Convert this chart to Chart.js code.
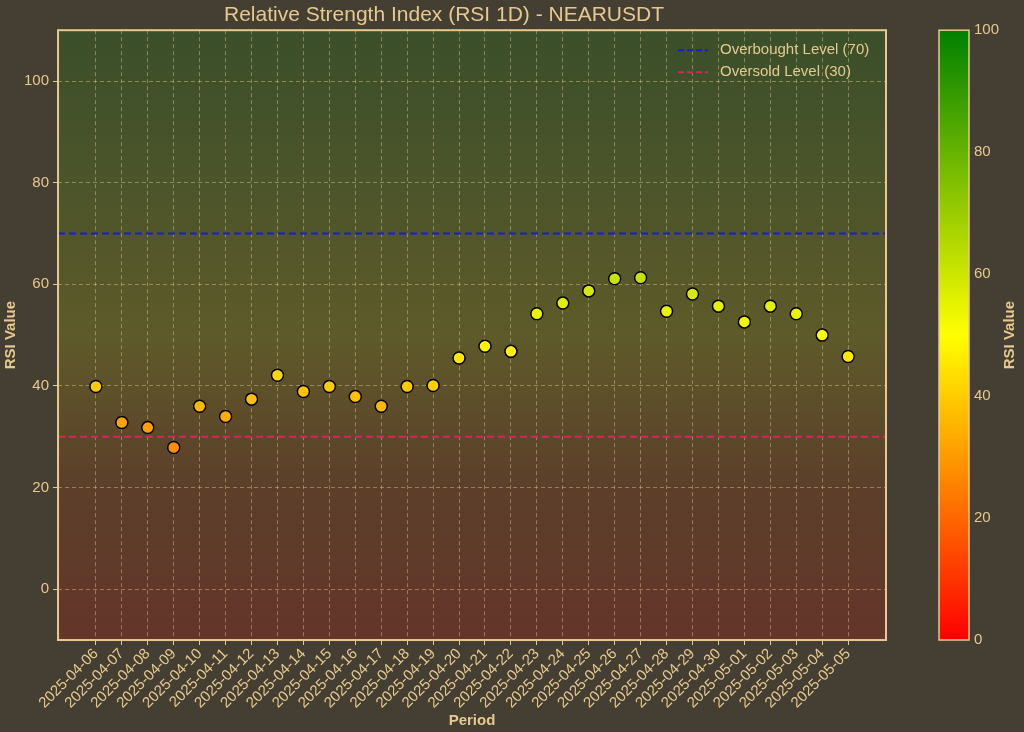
<!DOCTYPE html>
<html>
<head>
<meta charset="utf-8">
<script src="https://cdn.jsdelivr.net/npm/chart.js@4.4.0/dist/chart.umd.min.js"></script>
<style>
  html, body { margin: 0; padding: 0; background: #453e33; }
  #wrap { width: 1024px; height: 732px; }
</style>
</head>
<body>
<div id="wrap"><canvas id="rsi"></canvas></div>
<script>
// RSI 1D - NEARUSDT
const dates = [
  '2025-04-06', '2025-04-07', '2025-04-08', '2025-04-09', '2025-04-10', '2025-04-11',
  '2025-04-12', '2025-04-13', '2025-04-14', '2025-04-15', '2025-04-16', '2025-04-17',
  '2025-04-18', '2025-04-19', '2025-04-20', '2025-04-21', '2025-04-22', '2025-04-23',
  '2025-04-24', '2025-04-25', '2025-04-26', '2025-04-27', '2025-04-28', '2025-04-29',
  '2025-04-30', '2025-05-01', '2025-05-02', '2025-05-03', '2025-05-04', '2025-05-05',
];
const rsiValues = [
  39.9, 32.8, 31.8, 27.9, 36.0, 34.0, 37.4, 42.1, 38.9, 39.9, 37.9, 36.0, 39.9, 40.1, 45.5,
  47.8, 46.8, 54.2, 56.3, 58.7, 61.1, 61.3, 54.7, 58.1, 55.7, 52.6, 55.7, 54.2, 50.0, 45.8,
];
const yTicks = [0, 20, 40, 60, 80, 100];
const cbarTicks = [0, 20, 40, 60, 80, 100];
const overbought = 70;
const oversold = 30;

const TAN = '#e6c98f';
const FONT = '"Liberation Sans", Arial, sans-serif';
const XMIN = -1.46, XMAX = dates.length - 1 + 1.46;

// red -> yellow -> green
const rsiColor = (v) => {
  const t = Math.max(0, Math.min(1, v / 100));
  if (t <= 0.5) {
    const k = t / 0.5;
    return `rgb(255,${Math.round(255 * k)},0)`;
  }
  const k = (t - 0.5) / 0.5;
  return `rgb(${Math.round(255 * (1 - k))},${Math.round(255 - 127 * k)},0)`;
};

const bgPlugin = {
  id: 'bg',
  beforeDraw(chart) {
    const { ctx, chartArea: a } = chart;
    const g = ctx.createLinearGradient(0, a.top, 0, a.bottom);
    g.addColorStop(0, '#3a4f2a');
    g.addColorStop(0.5, '#5e5a2a');
    g.addColorStop(0.75, '#5c3f2a');
    g.addColorStop(1, '#64352a');
    ctx.save();
    ctx.fillStyle = g;
    ctx.fillRect(a.left, a.top, a.right - a.left, a.bottom - a.top);
    ctx.restore();
  },
  afterDraw(chart) {
    const { ctx, chartArea: a } = chart;
    ctx.save();
    ctx.strokeStyle = TAN;
    ctx.lineWidth = 2;
    ctx.strokeRect(a.left, a.top, a.right - a.left, a.bottom - a.top);

    // legend
    ctx.font = `15px ${FONT}`;
    ctx.textBaseline = 'middle';
    const items = [['Overbought Level (70)', '#1a1adf'], ['Oversold Level (30)', '#d6245e']];
    items.forEach(([txt, col], i) => {
      const y = a.top + 20 + i * 22;
      ctx.strokeStyle = col;
      ctx.lineWidth = 2;
      ctx.setLineDash([6, 3]);
      ctx.beginPath();
      ctx.moveTo(678, y);
      ctx.lineTo(708, y);
      ctx.stroke();
      ctx.setLineDash([]);
      ctx.fillStyle = TAN;
      ctx.textAlign = 'left';
      ctx.fillText(txt, 720, y);
    });

    // colorbar
    const cx = 939, cw = 30;
    const g = ctx.createLinearGradient(0, a.top, 0, a.bottom);
    [0, 25, 50, 75, 100].forEach((v) => g.addColorStop(1 - v / 100, rsiColor(v)));
    ctx.fillStyle = g;
    ctx.fillRect(cx, a.top, cw, a.bottom - a.top);
    ctx.strokeStyle = TAN;
    ctx.lineWidth = 1.5;
    ctx.strokeRect(cx, a.top, cw, a.bottom - a.top);
    ctx.fillStyle = TAN;
    ctx.textAlign = 'left';
    ctx.font = `15px ${FONT}`;
    cbarTicks.forEach((v) => {
      const y = a.bottom - (v / 100) * (a.bottom - a.top);
      ctx.fillText(String(v), cx + cw + 5, y);
    });
    ctx.translate(1010, (a.top + a.bottom) / 2);
    ctx.rotate(-Math.PI / 2);
    ctx.textAlign = 'center';
    ctx.font = `bold 15px ${FONT}`;
    ctx.fillText('RSI Value', 0, 0);
    ctx.restore();
  },
};

const hline = (val, color) => ({
  type: 'line',
  data: [{ x: XMIN, y: val }, { x: XMAX, y: val }],
  borderColor: color,
  borderWidth: 2,
  borderDash: [7, 4],
  pointRadius: 0,
  order: 2,
});

new Chart(document.getElementById('rsi'), {
  type: 'scatter',
  data: {
    datasets: [
      hline(overbought, '#1a1adf'),
      hline(oversold, '#d6245e'),
      {
        type: 'scatter',
        data: rsiValues.map((v, i) => ({ x: i, y: v })),
        backgroundColor: rsiValues.map(rsiColor),
        borderColor: '#000',
        borderWidth: 1.5,
        pointRadius: 6,
        order: 1,
      },
    ],
  },
  plugins: [bgPlugin],
  options: {
    responsive: true,
    maintainAspectRatio: false,
    animation: false,
    layout: { padding: { top: 0, right: 138, bottom: 2, left: 2 } },
    plugins: {
      legend: { display: false },
      tooltip: { enabled: false },
      title: {
        display: true,
        text: 'Relative Strength Index (RSI 1D) - NEARUSDT',
        color: TAN,
        font: { size: 21, family: FONT, weight: 'normal' },
        padding: { top: 3, bottom: 2 },
      },
    },
    scales: {
      x: {
        type: 'linear',
        min: XMIN,
        max: XMAX,
        afterBuildTicks: (s) => { s.ticks = dates.map((_, i) => ({ value: i })); },
        ticks: {
          color: TAN,
          font: { size: 15, family: FONT },
          maxRotation: 45,
          minRotation: 45,
          autoSkip: false,
          padding: 0,
          callback: (v) => dates[v],
        },
        grid: { color: 'rgba(230,201,143,0.45)', tickColor: TAN, tickLength: 5 },
        border: { display: false, dash: [4, 3] },
        title: { display: true, text: 'Period', color: TAN, font: { size: 15, weight: 'bold', family: FONT }, padding: 0 },
      },
      y: {
        min: -10,
        max: 110,
        afterBuildTicks: (s) => { s.ticks = yTicks.map((v) => ({ value: v })); },
        ticks: { color: TAN, font: { size: 15, family: FONT }, padding: 4 },
        grid: { color: 'rgba(230,201,143,0.45)', tickColor: TAN, tickLength: 5 },
        border: { display: false, dash: [4, 3] },
        title: { display: true, text: 'RSI Value', color: TAN, font: { size: 15, weight: 'bold', family: FONT }, padding: 0 },
      },
    },
  },
});
</script>
</body>
</html>
